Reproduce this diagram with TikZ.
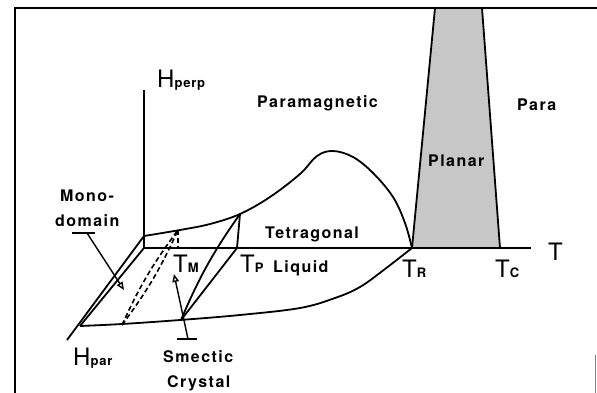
\documentclass[tikz,border=0pt]{standalone}
\usepackage{fontspec}
\setmainfont{TeX Gyre Heros}
\usepackage{tikz}
\usetikzlibrary{arrows.meta,positioning,calc}
\newcommand{\lblfont}{\fontsize{16}{18}\selectfont\bfseries\addfontfeature{LetterSpace=9}}
\newcommand{\subfont}{\fontsize{13}{15}\selectfont\bfseries\addfontfeature{LetterSpace=6}}
\newcommand{\axfont}{\fontsize{24}{26}\selectfont}
\tikzset{
  phase/.style={line width=1.8pt, line join=round},
  guide/.style={line width=1.6pt, dash pattern=on 5pt off 3pt},
  lbl/.style={anchor=base west, inner sep=0pt, font=\lblfont},
  axlbl/.style={anchor=base west, inner sep=0pt, font=\axfont},
  ptr/.style={line width=1.4pt, -{Triangle[open,length=8pt,width=6.5pt]}},
}

\begin{document}
\begin{tikzpicture}[x=1pt, y=-1pt]
  \useasboundingbox (0,0) rectangle (597,393);
  \coordinate (fTL) at (15,8);
  \coordinate (fBL) at (15,393);
  \coordinate (fTR) at (597,8);
  \coordinate (fR0) at (595,355);
  \coordinate (fR1) at (595,393);
  \coordinate (O) at (144,248);
  \coordinate (Hperp) at (144,90);
  \coordinate (Tend) at (531,248);
  \coordinate (Hend) at (67,340);
  \coordinate (U0) at (144,236);
  \coordinate (B0) at (80,326);
  \coordinate (TR) at (412,248);
  \coordinate (TC) at (500,248);
  \coordinate (PL) at (435,8);
  \coordinate (PR) at (482,8);
  \coordinate (M0) at (122,325);
  \coordinate (M1) at (178,230);
  \coordinate (MT) at (178,248);
  \coordinate (P0) at (181,320);
  \coordinate (P1) at (240,214);
  \coordinate (PT) at (237,248);

  \begin{scope}
    \clip (fTL) rectangle (fR1);
    \filldraw[phase, fill=black!22] (TR) -- (PL) -- (PR) -- (TC) -- cycle;
  \end{scope}
  \draw[line width=1.3pt] (fTR) -- (fTL) -- (fBL);
  \draw[line width=1pt, black!50] (fR0) -- (fR1);

  \draw[phase] (Hperp) -- (O) -- (Tend);
  \draw[line width=2.4pt] (TR) -- (TC);
  \draw[phase] (Hend) -- (U0);
  \draw[phase] (B0) -- (O);
  \draw[phase] plot[smooth, tension=0.6] coordinates {(144,236) (180,230) (210,224) (240,214) (270,197) (300,174) (317,156) (333,151) (353,157) (373,173) (393,197) (405,223) (412,248)};
  \draw[phase] plot[smooth, tension=0.6] coordinates {(80,326) (122,324) (180,320) (240,315) (300,308) (335,298) (360,287) (385,269) (412,248)};

  \draw[guide] (M0) to[bend left=6] (M1);
  \draw[guide] (M0) to[bend right=6] (M1);
  \draw[guide, line width=1.3pt] (M1) -- (MT);

  \draw[phase] (P0) to[bend left=6] (P1);
  \draw[phase] (P0) -- (PT) -- (P1);

  \node[axlbl] (hperp) at (157,88) {H{\subfont perp}};
  \node[axlbl] (hpar) at (73,365) {H{\subfont par}};
  \node[axlbl] (t) at (548,260) {T};
  \node[axlbl] (tm) at (173,272) {T{\subfont M}};
  \node[axlbl] (tp) at (240,272) {T{\subfont P}};
  \node[axlbl] (tr) at (402,277) {T{\subfont R}};
  \node[axlbl] (tc) at (495,277) {T{\subfont C}};

  \node[lbl] (para) at (257,108) {Paramagnetic};
  \node[lbl] (para2) at (517,111) {Para};
  \node[lbl] (planar) at (428,167) {Planar};
  \node[lbl] (tetra) at (265,238) {Tetragonal};
  \node[lbl] (liquid) at (273,272) {Liquid};
  \node[lbl] (mono) at (60,201) {Mono-};
  \node[lbl] (domain) at (55,226) {domain};
  \node[lbl] (smectic) at (163,362) {Smectic};
  \node[lbl] (crystal) at (167,387) {Crystal};

  \coordinate (mbarL) at (72,233);
  \coordinate (mbarR) at (95,233);
  \coordinate (mbar) at (87,233);
  \coordinate (mtip) at (124,290);
  \draw[line width=1.4pt] (mbarL) -- (mbarR);
  \draw[ptr] (mbar) -- (mtip);

  \coordinate (sbarL) at (177,339);
  \coordinate (sbarR) at (197,339);
  \coordinate (sbar) at (188,339);
  \coordinate (stip) at (174,274);
  \draw[line width=1.4pt] (sbarL) -- (sbarR);
  \draw[ptr] (sbar) -- (stip);
\end{tikzpicture}
\end{document}
